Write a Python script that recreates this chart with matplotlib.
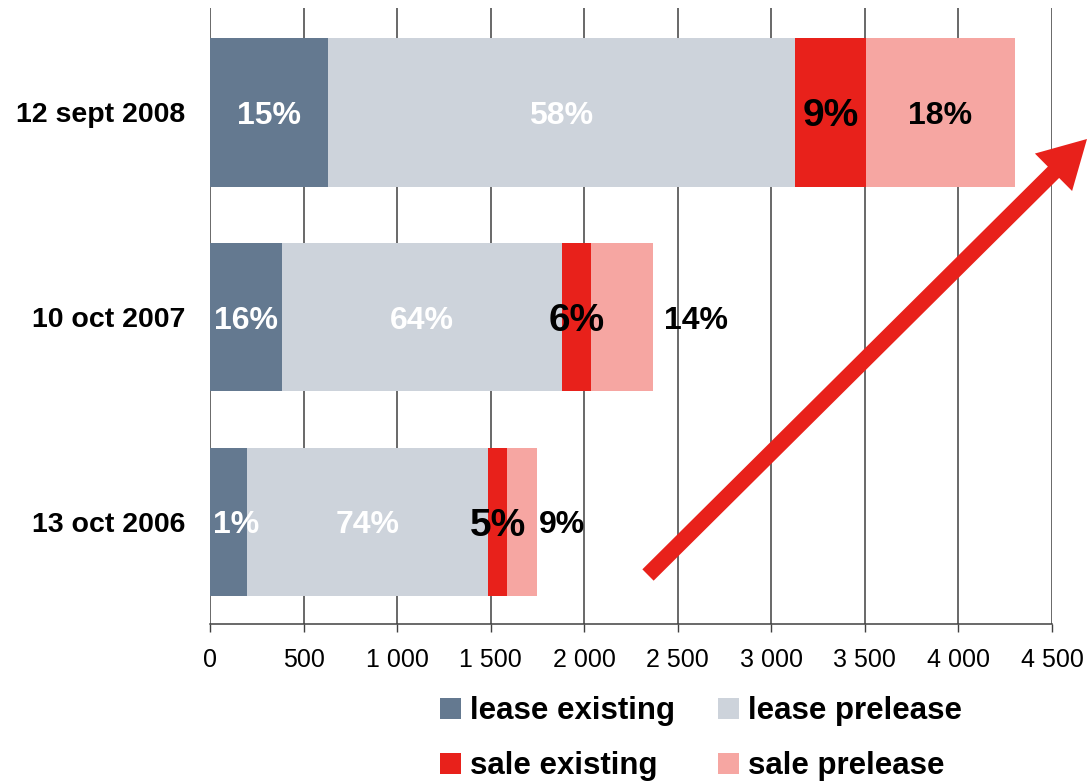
import matplotlib
matplotlib.use("Agg")
import matplotlib.pyplot as plt
from matplotlib.patches import FancyArrowPatch, Patch
from matplotlib.ticker import FuncFormatter

dates = ["13 oct 2006", "10 oct 2007", "12 sept 2008"]
series = ["lease existing", "lease prelease", "sale existing", "sale prelease"]
lease_existing = [198, 385, 630]
lease_prelease = [1288, 1496, 2497]
sale_existing = [101, 155, 379]
sale_prelease = [161, 332, 796]
pct_labels = [
    ["1%", "16%", "15%"],
    ["74%", "64%", "58%"],
    ["5%", "6%", "9%"],
    ["9%", "14%", "18%"],
]
colors = ["#647990", "#cdd3db", "#e8211b", "#f6a6a2"]

plt.rcParams['font.family'] = ['Liberation Sans', 'DejaVu Sans']

fig = plt.figure(figsize=(10.87, 7.82), dpi=100)
ax = fig.add_axes([0.1932, 0.2020, 0.7746, 0.7878])

values = [lease_existing, lease_prelease, sale_existing, sale_prelease]
ypos = list(range(len(dates)))
left = [0] * len(dates)
va = "center_baseline"
for i, vals in enumerate(values):
    ax.barh(ypos, vals, left=left, height=0.725, color=colors[i], zorder=2)
    for j, v in enumerate(vals):
        lab = pct_labels[i][j]
        mid = left[j] + v / 2
        end = left[j] + v
        if i == 0 and v < 300:
            # too narrow to centre: start the label at the bar's left edge
            ax.annotate(lab, (left[j], j), xytext=(2.5, 0), textcoords="offset points",
                        ha="left", va=va, color="white",
                        fontsize=23, fontweight="bold", zorder=3)
        elif i < 2:
            ax.text(mid, j, lab, ha="center", va=va,
                    color="white", fontsize=23, fontweight="bold", zorder=3)
        elif i == 2:
            ax.text(mid, j, lab, ha="center", va=va,
                    color="black", fontsize=28, fontweight="bold", zorder=3)
        elif j == 2:
            ax.text(mid, j, lab, ha="center", va=va,
                    color="black", fontsize=23, fontweight="bold", zorder=3)
        else:
            # small segments get their label just past the bar end
            off = [1, 8][j]
            ax.annotate(lab, (end, j), xytext=(off, 0), textcoords="offset points",
                        ha="left", va=va, color="black",
                        fontsize=23, fontweight="bold", zorder=3)
    left = [l + v for l, v in zip(left, vals)]

ax.set_xlim(0, 4500)
ax.set_ylim(-0.5, 2.51)
ax.set_xticks(range(0, 4501, 500))
ax.xaxis.set_major_formatter(FuncFormatter(lambda x, p: f"{int(x):,}".replace(",", " ")))
ax.set_yticks(ypos)
ax.set_yticklabels(dates, fontsize=20.5, fontweight="bold")
ax.tick_params(axis="y", length=0, pad=18)
ax.tick_params(axis="x", length=6, width=1, color="#404040", labelsize=18, pad=11)
ax.grid(axis="x", color="#404040", linewidth=1.1, zorder=0)
for s in ["top", "right", "left"]:
    ax.spines[s].set_visible(False)
ax.spines["bottom"].set_color("#404040")
ax.spines["bottom"].set_linewidth(1.1)

# trend arrow across the chart
arrow = FancyArrowPatch((648 / 1087, 207 / 782), (1087 / 1087, 643 / 782),
                        transform=fig.transFigure,
                        arrowstyle="simple,head_length=34,head_width=38,tail_width=11.5",
                        mutation_scale=1, shrinkA=0, shrinkB=0,
                        color="#e8211b", linewidth=0, zorder=5)
fig.add_artist(arrow)

# legend fills column by column, so order handles to read row by row
order = [0, 2, 1, 3]
handles = [Patch(facecolor=colors[k], edgecolor="none") for k in order]
fig.legend(handles, [series[k] for k in order], ncol=2, loc="upper left",
           bbox_to_anchor=(0.4048, 0.1095),
           frameon=False, prop={"size": 22.5, "weight": "bold"},
           handlelength=0.67, handleheight=0.67, handletextpad=0.29,
           columnspacing=1.37, labelspacing=0.8, borderaxespad=0, borderpad=0)

fig.savefig("out.png", dpi=100)
